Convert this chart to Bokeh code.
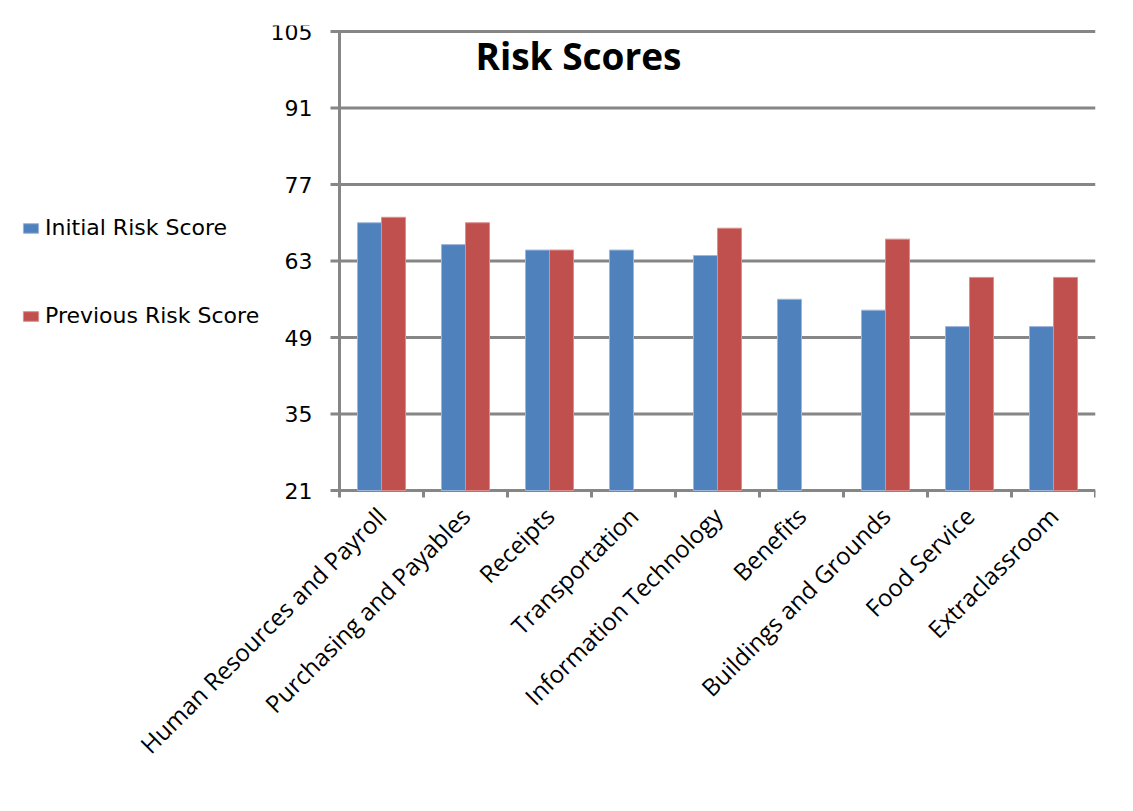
from bokeh.plotting import figure
from bokeh.models import (Range1d, LinearAxis, FixedTicker,
                          Legend, LegendItem, Label, ColumnDataSource)
from bokeh.core.properties import value
from bokeh.transform import dodge
from bokeh.embed import file_html
from bokeh.resources import INLINE
import math

categories = ["Human Resources and Payroll", "Purchasing and Payables", "Receipts",
              "Transportation", "Information Technology", "Benefits",
              "Buildings and Grounds", "Food Service", "Extraclassroom"]
initial_risk = [70, 66, 65, 65, 64, 56, 54, 51, 51]
previous_risk = [71, 70, 65, None, 69, None, 67, 60, 60]
series_names = ["Initial Risk Score", "Previous Risk Score"]
y_ticks = [21, 35, 49, 63, 77, 91, 105]
title_text = "Risk Scores"

BLUE = "#4F81BD"
RED = "#C0504D"
GRID = "#868686"

W, H = 1125, 800
FRAME_TOP, FRAME_BOTTOM = 25, 500      # page pixels of the drawing area
AXIS_X, Y_TOP_PX, Y_BOT_PX = 339, 31, 490  # where the value axis sits
FRAME_RIGHT = 1095

n = len(categories)
centers = [i + 0.5 for i in range(n)]
bounds = list(range(n + 1))

px_per_y = (Y_BOT_PX - Y_TOP_PX) / (y_ticks[-1] - y_ticks[0])
y_lo = y_ticks[0] - (FRAME_BOTTOM - Y_BOT_PX) / px_per_y
y_hi = y_ticks[-1] + (Y_TOP_PX - FRAME_TOP) / px_per_y
px_per_x = (FRAME_RIGHT - AXIS_X) / n
x_lo = -AXIS_X / px_per_x

nan = float("nan")
src = ColumnDataSource(dict(cat=categories, pos=centers, init=initial_risk,
                            prev=[nan if v is None else v for v in previous_risk],
                            base=[y_ticks[0]] * n))

p = figure(x_range=Range1d(x_lo, n), y_range=Range1d(y_lo, y_hi),
           width=W, height=H, output_backend="svg", toolbar_location=None,
           x_axis_location=None, y_axis_location=None,
           min_border_left=0, min_border_top=FRAME_TOP,
           min_border_right=W - FRAME_RIGHT, min_border_bottom=H - FRAME_BOTTOM)
p.outline_line_color = None
p.background_fill_color = "white"
p.border_fill_color = "white"
p.grid.visible = False

# horizontal gridlines (with the outward tick on the value axis)
tick_len = 9 / px_per_x
p.segment(x0=[-tick_len] * len(y_ticks), x1=[n] * len(y_ticks), y0=y_ticks, y1=y_ticks,
          line_color=GRID, line_width=3)
# value axis line
p.segment(x0=[0], x1=[0], y0=[y_ticks[0]], y1=[y_ticks[-1]], line_color=GRID, line_width=3)
# category boundary ticks
p.segment(x0=bounds, x1=bounds, y0=[y_ticks[0]] * len(bounds),
          y1=[y_ticks[0] - 7 / px_per_y] * len(bounds), line_color=GRID, line_width=3)
# value tick labels
p.text(x=[0] * len(y_ticks), y=y_ticks, text=[str(t) for t in y_ticks], x_offset=-27,
       text_align="right", text_baseline="middle", text_font=value("DejaVu Sans"),
       text_font_size="22px", text_color="black")

r1 = p.vbar(x=dodge("pos", -0.143), bottom="base", top="init", width=0.286,
            source=src, fill_color=BLUE, line_color="#9db7db", line_width=1)
r2 = p.vbar(x=dodge("pos", 0.143), bottom="base", top="prev", width=0.286,
            source=src, fill_color=RED, line_color="#dc8f8d", line_width=1)

# category labels at the category centres
xax = LinearAxis(ticker=FixedTicker(ticks=centers),
                 major_label_overrides={c: lab for c, lab in zip(centers, categories)},
                 axis_line_color=None, major_tick_line_color=None,
                 minor_tick_line_color=None,
                 major_label_orientation=math.pi / 4,
                 major_label_text_font="Open Sans",
                 major_label_text_font_size="24px",
                 major_label_text_color="black",
                 major_label_standoff=5)
p.add_layout(xax, "below")

title = Label(x=578, y=FRAME_BOTTOM - 55, x_units="screen", y_units="screen", text=title_text,
              text_font="Open Sans", text_font_style="bold", text_font_size="37px",
              text_align="center", text_baseline="middle", text_color="black")
p.add_layout(title)

legend = Legend(items=[LegendItem(label=series_names[0], renderers=[r1]),
                       LegendItem(label=series_names[1], renderers=[r2])],
                location=(21, FRAME_BOTTOM - 328), orientation="vertical",
                glyph_width=19, glyph_height=12, label_height=24, spacing=63,
                label_standoff=5, padding=0, margin=0,
                border_line_color=None, background_fill_alpha=0,
                label_text_font="DejaVu Sans", label_text_font_size="22px",
                label_text_color="black")
p.add_layout(legend, "center")

open("out.html", "w").write(file_html(p, INLINE))
